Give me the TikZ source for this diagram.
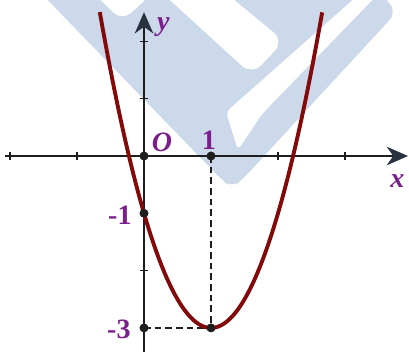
\documentclass[tikz,border=0pt]{standalone}
\usepackage{fontspec}
\setmainfont{Liberation Serif}
\usetikzlibrary{arrows.meta}
\definecolor{wm}{RGB}{203,217,234}
\definecolor{curvec}{RGB}{130,10,10}
\definecolor{lab}{RGB}{122,30,140}
\definecolor{arr}{RGB}{40,50,62}
\definecolor{axc}{RGB}{30,30,30}
\begin{document}
\begin{tikzpicture}[x=0.75pt,y=-0.75pt,
  axisline/.style={draw=axc, line width=1.1pt},
  tickmark/.style={draw=axc, line width=1.1pt},
  dotmark/.style={circle, fill=axc, inner sep=0pt, minimum size=6.5pt},
  dashline/.style={draw=axc, line width=1pt, dash pattern=on 5pt off 3pt},
  lbl/.style={text=lab, font=\fontsize{21}{22}\selectfont\bfseries, inner sep=0pt},
  ilbl/.style={lbl, font=\fontsize{21}{22}\selectfont\bfseries\itshape},
  parab/.style={draw=curvec, line width=2.9pt}]
\useasboundingbox (0,0) rectangle (409,351);
% watermark
\begin{scope}
\clip (0,0) rectangle (409,351);
\fill[wm, rounded corners=7pt] (38,-10) -- (224,182) -- (232,187) -- (241,181) -- (396,13) -- (388,1) -- (378,-10) -- cycle;
\fill[white, rounded corners=9pt] (60,-40) -- (122,21) -- (152,-6) -- (90,-60) -- cycle;
\fill[white, rounded corners=10pt] (148,-20) -- (252,75) -- (284,41) -- (210,-20) -- cycle;
\fill[white, rounded corners=4pt] (364,-10) -- (382,-10) -- (262,114) -- (238,150) -- (226,112) -- cycle;
\end{scope}
% graph
\begin{scope}[shift={(144,156)}, x=50.25pt, y=42.975pt]
\coordinate (xl) at (-2.07,0);
\coordinate (xr) at (3.94,0);
\coordinate (yb) at (0,-3.45);
\coordinate (yt) at (0,2.51);
\node[dotmark] (o) at (0,0) {};
\node[dotmark] (a) at (1,0) {};
\node[dotmark] (b) at (0,-1) {};
\node[dotmark] (c) at (0,-3) {};
\node[dotmark] (v) at (1,-3) {};
\draw[dashline] (a.center) -- (v.center);
\draw[dashline] (c.center) -- (v.center);
\draw[axisline, -{Stealth[length=16pt, width=14pt, inset=5pt, color=arr]}] (xl) -- (xr);
\draw[axisline, -{Stealth[length=16pt, width=14pt, inset=5pt, color=arr]}] (yb) -- (yt);
\foreach \t in {-2,-1,2,3} \draw[tickmark] (\t,0) +(0,-3pt) -- +(0,3pt);
\foreach \t in {2,1,-2} \draw[tickmark] (0,\t) +(-3pt,0) -- +(3pt,0);
\draw[parab, domain=-0.66:2.66, samples=120] plot (\x, {2*(\x-1)*(\x-1)-3});
\node[dotmark] at (o) {};
\node[dotmark] at (a) {};
\node[dotmark] at (b) {};
\node[dotmark] at (c) {};
\node[dotmark] at (v) {};
\node[ilbl] (ly) at (0.29,2.25) {y};
\node[ilbl] (lo) at (0.27,0.24) {O};
\node[lbl] (l1) at (0.97,0.28) {1};
\node[ilbl] (lx) at (3.78,-0.43) {x};
\node[lbl] (lm1) at (-0.36,-1.03) {-1};
\node[lbl] (lm3) at (-0.375,-3.02) {-3};
\end{scope}
\end{tikzpicture}
\end{document}
